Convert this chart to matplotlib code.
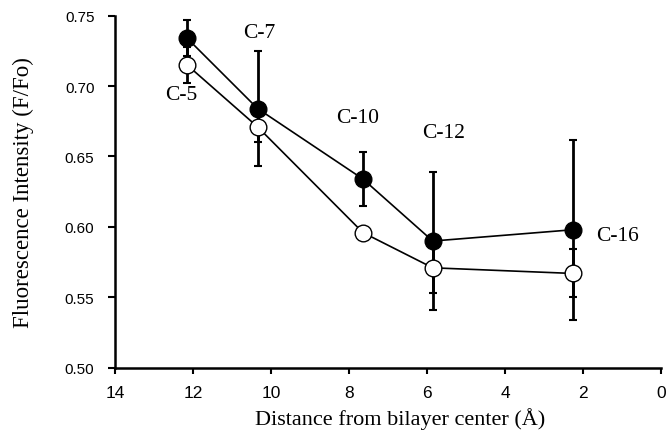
import matplotlib
matplotlib.use("Agg")
import matplotlib.pyplot as plt

# distance from bilayer center (A) for each probe position
labels = ["C-5", "C-7", "C-10", "C-12", "C-16"]
dist = [12.16, 10.35, 7.65, 5.86, 2.27]

# filled circles
filled_y = [0.734, 0.684, 0.634, 0.590, 0.598]
filled_err = [0.013, 0.041, 0.019, 0.049, 0.064]

# open circles
open_y = [0.715, 0.671, 0.596, 0.571, 0.567]
open_err = [0.013, 0.011, 0.0, 0.018, 0.017]

# label positions (data coords)
lab_x = [12.3, 10.3, 7.78, 5.58, 1.12]
lab_y = [0.694, 0.738, 0.678, 0.667, 0.594]

serif = "Liberation Serif"
sans = "Liberation Sans"

fig = plt.figure(figsize=(6.66, 4.35), dpi=100)
ax = fig.add_axes([0.173, 0.152, 0.82, 0.81])

ax.errorbar(dist, filled_y, yerr=filled_err, fmt="none", ecolor="black",
            elinewidth=2, capsize=3, capthick=1.5, zorder=2)
ax.errorbar(dist, open_y, yerr=open_err, fmt="none", ecolor="black",
            elinewidth=2, capsize=3, capthick=1.5, zorder=2)
ax.plot(dist, filled_y, color="black", lw=1.2, marker="o", ms=12,
        mfc="black", mec="black", zorder=3)
ax.plot(dist, open_y, color="black", lw=1.2, marker="o", ms=12,
        mfc="white", mec="black", mew=1, zorder=3)

for t, x, y in zip(labels, lab_x, lab_y):
    ax.text(x, y, t, ha="center", va="center", fontsize=15.5, family=serif)

ax.set_xlim(14, 0)
ax.set_ylim(0.50, 0.75)
ax.set_xticks([14, 12, 10, 8, 6, 4, 2, 0])
ax.set_yticks([0.50, 0.55, 0.60, 0.65, 0.70, 0.75])
ax.set_yticklabels(["0.50", "0.55", "0.60", "0.65", "0.70", "0.75"])

for s in ["top", "right"]:
    ax.spines[s].set_visible(False)
for s in ["left", "bottom"]:
    ax.spines[s].set_linewidth(1.8)

ax.tick_params(axis="y", direction="out", length=5, width=1.5,
               labelsize=11, pad=10)
ax.tick_params(axis="x", direction="out", length=4, width=1.5,
               labelsize=12.5, pad=8)
for lab in ax.get_xticklabels() + ax.get_yticklabels():
    lab.set_family(sans)

ax.set_xlabel("Distance from bilayer center (Å)", fontsize=16,
              family=serif)
ax.xaxis.set_label_coords(0.522, -0.11)
ax.set_ylabel("Fluorescence Intensity (F/Fo)", fontsize=16.5,
              family=serif, labelpad=22)

fig.savefig("out.png", dpi=100)
